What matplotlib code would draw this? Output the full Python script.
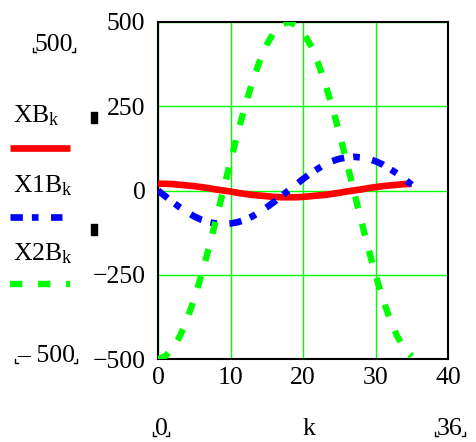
import numpy as np
import matplotlib.pyplot as plt
from matplotlib.lines import Line2D
from matplotlib.patches import Rectangle

plt.rcParams['font.family'] = ['Liberation Serif', 'DejaVu Sans']
plt.rcParams['mathtext.fontset'] = 'custom'
plt.rcParams['mathtext.rm'] = 'Liberation Serif'
plt.rcParams['mathtext.it'] = 'Liberation Serif:italic'
plt.rcParams['lines.scale_dashes'] = False

k = np.arange(36)
xb = [20, 20, 19, 17, 15, 13, 10, 7, 3, 0, -3, -7, -10, -13, -15, -17, -19, -20,
      -20, -20, -19, -17, -15, -13, -10, -7, -3, 0, 3, 7, 10, 13, 15, 17, 19, 20]
x1b = [0, -17, -34, -50, -64, -77, -87, -94, -98, -100, -98, -94, -87, -77, -64, -50, -34, -17,
       0, 17, 34, 50, 64, 77, 87, 94, 98, 100, 98, 94, 87, 77, 64, 50, 34, 17]
x2b = [-500, -492, -470, -433, -383, -321, -250, -171, -87, 0, 87, 171, 250, 321, 383, 433, 470, 492,
       500, 492, 470, 433, 383, 321, 250, 171, 87, 0, -87, -171, -250, -321, -383, -433, -470, -492]

x_ticks = [0, 10, 20, 30, 40]
y_ticks = [-500, -250, 0, 250, 500]
y_tick_labels = ['\u2212500', '\u2212250', '0', '250', '500']
series_names = [r'XB$_\mathrm{k}$', r'X1B$_\mathrm{k}$', r'X2B$_\mathrm{k}$']

W, H = 476, 442
FS = 18.5
fig = plt.figure(figsize=(W / 100, H / 100), dpi=100)
ax = fig.add_axes([158 / W, 1 - 359 / H, 290 / W, 337 / H])

styles = [
    dict(color='#ff0000', lw=4.8, solid_capstyle='butt'),
    dict(color='#0000ff', lw=4.8, dashes=(8.9, 6.5, 4.8, 9.0), dash_capstyle='butt'),
    dict(color='#00ff00', lw=4.6, dashes=(8.9, 11.3), dash_capstyle='butt'),
]

for ys, st in zip([xb, x1b, x2b], styles):
    ax.plot(k, ys, zorder=3, **st)

ax.set_xlim(0, 40)
ax.set_ylim(-500, 500)
ax.set_xticks(x_ticks)
ax.set_xticklabels([str(v) for v in x_ticks], fontsize=FS)
ax.set_yticks(y_ticks)
ax.set_yticklabels(y_tick_labels, fontsize=FS)
ax.tick_params(length=0, pad=9)
ax.tick_params(axis='x', pad=6)
ax.grid(True, color='#00ff00', lw=1.0)
for sp in ax.spines.values():
    sp.set_color('black')
    sp.set_linewidth(1.5)


def px(x, y):
    return x / W, 1 - y / H


renderer = fig.canvas.get_renderer()


def corner_label(x, y, text):
    # limit label with small corner brackets under its bottom corners
    t = fig.text(*px(x, y), text, fontsize=FS, ha='center', va='baseline')
    bb = t.get_window_extent(renderer)
    x0, x1 = bb.x0 - 2, bb.x1 + 2
    yb = 1 - y / H
    for xe, dx in [(x0, 3), (x1, -3)]:
        xf = xe / W
        fig.add_artist(Line2D([xf, xf, xf + dx / W], [yb + 3 / H, yb - 1 / H, yb - 1 / H],
                              color='black', lw=1.0))
    return t


corner_label(54, 51, '500')
corner_label(46, 362, '\u2013 500')
corner_label(161, 435, '0')
corner_label(450, 435, '36')
fig.text(*px(309, 435), 'k', fontsize=FS, ha='center', va='baseline')

# legend block on the left
legend_rows = [(122, 148, 70), (192, 217, 62), (260, 284, 70)]
for name, st, (ty, ly, lx) in zip(series_names, styles, legend_rows):
    fig.text(*px(13, ty), name, fontsize=FS, ha='left', va='baseline')
    fig.add_artist(Line2D([10 / W, lx / W], [1 - ly / H, 1 - ly / H], **st))

for yy in [112, 224]:
    fig.add_artist(Rectangle(px(91, yy + 11), 6 / W, 11 / H, color='black'))

fig.savefig('out.png', dpi=100)
